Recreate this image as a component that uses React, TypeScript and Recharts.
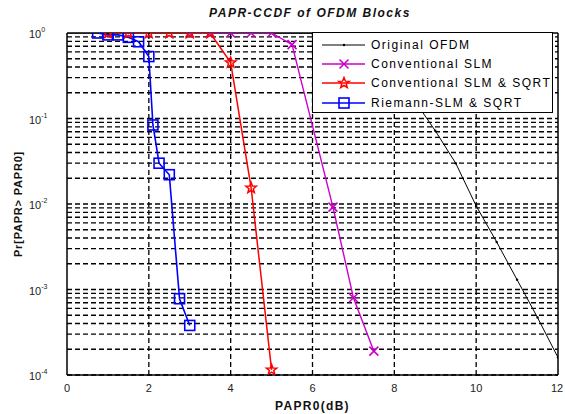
import React from 'react'
import { Label, Line, LineChart, ReferenceLine, XAxis, YAxis } from 'recharts'

// x ticks (dB) and decade ticks for the CCDF axis
const xTicks = [0, 2, 4, 6, 8, 10, 12]
const yTicks = [1e-4, 1e-3, 1e-2, 1e-1, 1]
const xGrid = [2, 4, 6, 8, 10]

// series
const origX = [0, 1, 2, 3, 4, 5, 6, 6.5, 7, 7.5, 8, 8.5, 9, 9.5, 10, 10.5, 11, 11.5, 12]
const origY = [1, 1, 1, 1, 1, 1, 0.995, 0.97, 0.85, 0.6, 0.33, 0.16, 0.072, 0.03, 0.0095, 0.0036, 0.0013, 0.00047, 0.00016]

const slmX = [3, 3.5, 4, 4.5, 5, 5.5, 6.5, 7, 7.5]
const slmY = [1, 1, 1, 1, 1, 0.73, 0.0092, 0.0008, 0.00019]

const sqrtX = [1, 1.5, 2, 2.5, 3, 3.5, 4, 4.5, 5]
const sqrtY = [1, 1, 1, 1, 1, 1, 0.45, 0.0154, 0.000115]

const riemX = [0.75, 1, 1.25, 1.5, 1.75, 2, 2.1, 2.25, 2.5, 2.75, 3]
const riemY = [1, 0.95, 0.95, 0.89, 0.79, 0.53, 0.084, 0.03, 0.022, 0.00078, 0.00038]

const seriesNames = ['Original OFDM', 'Conventional SLM', 'Conventional SLM & SQRT', 'Riemann-SLM & SQRT']
const colors = ['#000000', '#cc00cc', '#ff0000', '#0000ff']

const zip = (xs: number[], ys: number[]) => xs.map((x, i) => ({ x, y: ys[i] }))
const origData = zip(origX, origY)
const slmData = zip(slmX, slmY)
const sqrtData = zip(sqrtX, sqrtY)
const riemData = zip(riemX, riemY)

// minor log grid 1..9 x 10^k
const yGrid: number[] = []
for (let k = -4; k < 0; k++) {
  for (let m = 1; m <= 9; m++) yGrid.push(m * Math.pow(10, k))
}

const font = 'Arial, "Liberation Sans", Helvetica, sans-serif'
const gridProps = { stroke: '#000', strokeWidth: 1.3, strokeDasharray: '5 3' }

function starPoints(cx: number, cy: number, r: number) {
  const pts: string[] = []
  for (let i = 0; i < 10; i++) {
    const rr = i % 2 === 0 ? r : r * 0.42
    const a = -Math.PI / 2 + (i * Math.PI) / 5
    pts.push(`${cx + rr * Math.cos(a)},${cy + rr * Math.sin(a)}`)
  }
  return pts.join(' ')
}

const Marker = ({ kind, cx, cy, color }: { kind: number; cx: number; cy: number; color: string }) => {
  if (kind === 0) return <circle cx={cx} cy={cy} r={1.2} fill={color} />
  if (kind === 1)
    return (
      <g stroke={color} strokeWidth={1.6}>
        <line x1={cx - 4.5} y1={cy - 4.5} x2={cx + 4.5} y2={cy + 4.5} />
        <line x1={cx - 4.5} y1={cy + 4.5} x2={cx + 4.5} y2={cy - 4.5} />
      </g>
    )
  if (kind === 2) return <polygon points={starPoints(cx, cy, 5.5)} fill="none" stroke={color} strokeWidth={1.5} />
  return <rect x={cx - 5} y={cy - 5} width={10} height={10} fill="none" stroke={color} strokeWidth={1.6} />
}

const dotFor = (kind: number) => (p: any) => {
  const { cx, cy, index } = p
  if (cx == null || cy == null) return <g key={`d${kind}-${index}`} />
  return (
    <g key={`d${kind}-${index}`}>
      <Marker kind={kind} cx={cx} cy={cy} color={colors[kind]} />
    </g>
  )
}

const YTick = (props: any) => {
  const { x, y, payload } = props
  const exp = Math.round(Math.log10(payload.value))
  return (
    <text x={x - 30} y={y + 5} fontSize={11} fontFamily={font} fill="#222" textAnchor="start">
      10
      <tspan dy={-6} fontSize={7}>
        {exp}
      </tspan>
    </text>
  )
}

const XTick = (props: any) => {
  const { x, y, payload } = props
  return (
    <text x={x} y={y + 9} fontSize={11} fontFamily={font} fill="#222" textAnchor="middle">
      {payload.value}
    </text>
  )
}

const LegendBox = () => (
  <div
    style={{
      position: 'absolute',
      left: 312,
      top: 32,
      width: 239,
      height: 77,
      border: '1.5px solid #000',
      background: '#fff',
      fontFamily: font,
      fontSize: 12,
      letterSpacing: 1.5,
      color: '#000',
      paddingTop: 2,
      boxSizing: 'content-box',
    }}
  >
    {seriesNames.map((name, i) => (
      <div key={name} style={{ display: 'flex', alignItems: 'center', height: 19.3 }}>
        <svg width={58} height={14} style={{ flex: 'none' }}>
          <line x1={9} y1={7} x2={52} y2={7} stroke={colors[i]} strokeWidth={i === 0 ? 1 : 1.5} />
          <Marker kind={i} cx={31} cy={7} color={colors[i]} />
        </svg>
        <span style={{ whiteSpace: 'nowrap' }}>{name}</span>
      </div>
    ))}
  </div>
)

export default function App() {
  return (
    <div style={{ position: 'absolute', left: 0, top: 0, width: 565, height: 414, background: '#fff' }}>
      <div
        style={{
          position: 'absolute',
          left: 0,
          width: 620,
          top: 6,
          textAlign: 'center',
          fontFamily: font,
          fontWeight: 'bold',
          fontStyle: 'italic',
          fontSize: 12,
          letterSpacing: 1.5,
          color: '#111',
        }}
      >
        PAPR-CCDF of OFDM Blocks
      </div>
      <LineChart width={565} height={414} margin={{ top: 33, right: 7, bottom: 0, left: 0 }}>
        <XAxis
          dataKey="x"
          type="number"
          domain={[0, 12]}
          ticks={xTicks}
          height={39}
          tickLine={false}
          tick={<XTick />}
          axisLine={{ stroke: '#000', strokeWidth: 1.5 }}
          allowDataOverflow
        >
          <Label
            value="PAPR0(dB)"
            position="insideBottom"
            offset={4}
            style={{ fontFamily: font, fontWeight: 'bold', fontSize: 12, letterSpacing: 1.3, fill: '#111' }}
          />
        </XAxis>
        <YAxis
          dataKey="y"
          type="number"
          scale="log"
          domain={[1e-4, 1]}
          ticks={yTicks}
          width={67}
          tickLine={false}
          tick={<YTick />}
          axisLine={{ stroke: '#000', strokeWidth: 1.5 }}
          allowDataOverflow
        >
          <Label
            value="Pr[PAPR> PAPR0]"
            angle={-90}
            position="insideLeft"
            offset={18}
            style={{ fontFamily: font, fontWeight: 'bold', fontSize: 11, letterSpacing: 0.8, fill: '#111', textAnchor: 'middle' }}
          />
        </YAxis>
        {yGrid.map((v) => (
          <ReferenceLine key={`gy${v}`} y={v} {...gridProps} />
        ))}
        {xGrid.map((v) => (
          <ReferenceLine key={`gx${v}`} x={v} {...gridProps} />
        ))}
        <ReferenceLine y={1} stroke="#000" strokeWidth={1.5} />
        <ReferenceLine x={12} stroke="#000" strokeWidth={1.5} />
        <Line data={origData} dataKey="y" stroke={colors[0]} strokeWidth={1} dot={dotFor(0)} isAnimationActive={false} />
        <Line data={slmData} dataKey="y" stroke={colors[1]} strokeWidth={1.4} dot={dotFor(1)} isAnimationActive={false} />
        <Line data={sqrtData} dataKey="y" stroke={colors[2]} strokeWidth={1.5} dot={dotFor(2)} isAnimationActive={false} />
        <Line data={riemData} dataKey="y" stroke={colors[3]} strokeWidth={1.6} dot={dotFor(3)} isAnimationActive={false} />
      </LineChart>
      <LegendBox />
    </div>
  )
}
